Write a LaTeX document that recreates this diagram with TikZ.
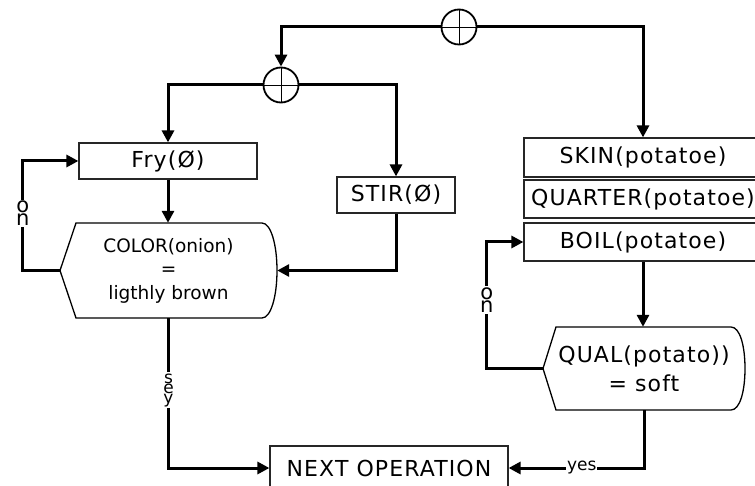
\documentclass[tikz,border=0pt]{standalone}
\usepackage{fontspec}
\setmainfont{DejaVu Sans}
\newfontfamily\wfont[LetterSpace=5]{DejaVu Sans}
\usetikzlibrary{arrows.meta}
\begin{document}
\begin{tikzpicture}[x=1pt,y=-1pt,
  conn/.style={line width=3pt},
  arr/.style={conn,-{Triangle[length=12pt,width=12pt]}},
  opbox/.style={draw=black!85,line width=1.2pt,font=\wfont\fontsize{22}{26}\selectfont,inner sep=0pt},
  shp/.style={draw=black,line width=1.3pt},
  lab/.style={fill=white,inner sep=1.5pt,align=center},
  sumc/.style={circle,draw,line width=1.8pt,minimum size=35pt,inner sep=0pt}]
\useasboundingbox (0,0) rectangle (755,486);
\clip (0,0) rectangle (755,486);
% boxes
\node[opbox,minimum width=178pt,minimum height=36pt] (fry) at (168,161) {Fry(Ø)};
\node[opbox,minimum width=118pt,minimum height=36pt] (stir) at (396,195) {STIR(Ø)};
\node[opbox,minimum width=238pt,minimum height=39pt] (skin) at (643,157.5) {SKIN(potatoe)};
\node[opbox,minimum width=238pt,minimum height=38pt] (quarter) at (643,199) {QUARTER(potatoe)};
\node[opbox,minimum width=238pt,minimum height=38pt] (boil) at (643,242) {BOIL(potatoe)};
\node[opbox,minimum width=238pt,minimum height=44pt] (next) at (389,468) {NEXT OPERATION};
% decision (display) shapes
\draw[shp] (60,270.5) -- (76,223) -- (262,223) .. controls (271,223) and (277,245) .. (277,270.5)
  .. controls (277,296) and (271,318) .. (262,318) -- (76,318) -- cycle;
\node[minimum width=217pt,minimum height=95pt,inner sep=0pt,align=center,
  font=\fontsize{18.5}{23.5}\selectfont] (color) at (168.5,270.5) {COLOR(onion)\\=\\ligthly brown};
\draw[shp] (543,368.5) -- (556,327) -- (731,327) .. controls (740,327) and (745,346) .. (745,368.5)
  .. controls (745,391) and (740,410) .. (731,410) -- (556,410) -- cycle;
\node[minimum width=202pt,minimum height=83pt,inner sep=0pt,align=center,
  font=\wfont\fontsize{22}{29}\selectfont] (qual) at (644,368.5) {QUAL(potato))\\= soft};
% summing junctions
\node[sumc] (s1) at (459,27) {};
\node[sumc] (s2) at (281,85) {};
\draw[line width=0.8pt] (s1.north) -- (s1.south) (s1.west) -- (s1.east);
\draw[line width=0.8pt] (s2.north) -- (s2.south) (s2.west) -- (s2.east);
% connectors
\draw[arr] (s1.west) -| (s2.north);
\draw[arr] (s1.east) -| (skin.north);
\draw[arr] (s2.west) -| (fry.north);
\draw[arr] (s2.east) -| (stir.north);
\draw[arr] (fry.south) -- (fry.south |- color.north);
\draw[arr] (stir.south) |- (color.east);
\draw[arr] (color.west) -- ++(-37,0) |- node[lab,pos=0.26,font=\fontsize{21}{13}\selectfont]{o\\n} (fry.west);
\draw[arr] (color.south) |- node[lab,pos=0.24,font=\fontsize{17}{10}\selectfont]{s\\e\\y} (next.west);
\draw[arr] (boil.south) -- (boil.south |- qual.north);
\draw[arr] (qual.west) -- ++(-56,0) |- node[lab,pos=0.27,font=\fontsize{21}{13}\selectfont]{o\\n} (boil.west);
\draw[arr] (qual.south) |- node[lab,pos=0.73,inner sep=1pt,font=\fontsize{17}{20}\selectfont]{yes} (next.east);
\end{tikzpicture}
\end{document}
